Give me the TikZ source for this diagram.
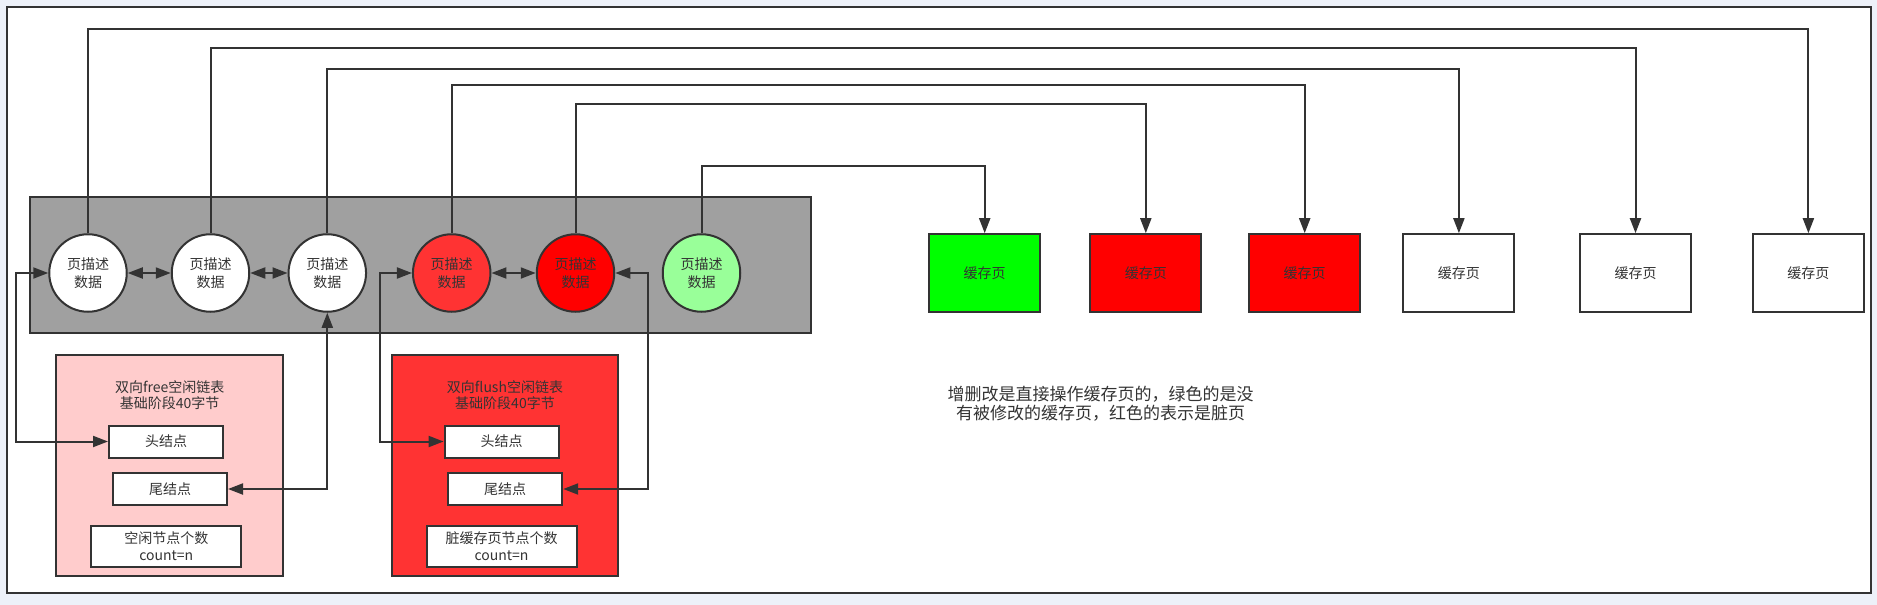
\documentclass[tikz,border=0pt]{standalone}
\usepackage{fontspec}
\setmainfont{Noto Sans CJK SC}
\usetikzlibrary{arrows.meta,positioning}
\definecolor{ink}{HTML}{333333}
\definecolor{canvas}{HTML}{EDF1F9}
\definecolor{poolgray}{HTML}{A0A0A0}
\definecolor{dirtyred}{HTML}{FF3333}
\definecolor{freepink}{HTML}{FFCCCC}
\definecolor{cleangreen}{HTML}{99FF99}
\tikzset{
  desc/.style={circle,draw=ink,line width=2pt,minimum size=77.5pt,inner sep=0pt,
    align=center,text=ink,font=\fontsize{14}{17.5}\selectfont},
  page/.style={rectangle,draw=ink,line width=2pt,minimum width=111pt,minimum height=78pt,
    inner sep=0pt,text=ink,font=\fontsize{14}{17}\selectfont},
  listbox/.style={rectangle,draw=ink,line width=2pt,minimum width=226.5pt,minimum height=221pt},
  field/.style={rectangle,draw=ink,fill=white,line width=2pt,minimum width=114pt,minimum height=32pt,
    inner sep=0pt,align=center,text=ink,font=\fontsize{14}{17}\selectfont},
  countfield/.style={field,minimum width=150pt,minimum height=41pt},
  caption/.style={align=center,text=ink,inner sep=0pt,font=\fontsize{14}{16.6}\selectfont},
  link/.style={draw=ink,line width=2pt,>={Triangle[length=15pt,width=11pt]}}
}
\begin{document}
\begin{tikzpicture}[x=1pt,y=-1pt]
  \useasboundingbox[fill=canvas] (0,0) rectangle (1877,605);
  \draw[ink,line width=2pt,fill=white] (6.7,7.3) rectangle (1871.3,593.3);
  \node[draw=ink,line width=2pt,fill=poolgray,minimum width=780.7pt,minimum height=136pt] (pool) at (420.3,264.7) {};

  % page descriptors
  \node[desc,fill=white] (d1) at (88,273) {页描述\\数据};
  \node[desc,fill=white] (d2) at (210.5,273) {页描述\\数据};
  \node[desc,fill=white] (d3) at (327.3,273) {页描述\\数据};
  \node[desc,fill=dirtyred] (d4) at (451.7,273) {页描述\\数据};
  \node[desc,fill=red] (d5) at (575.5,273) {页描述\\数据};
  \node[desc,fill=cleangreen] (d6) at (701.5,273) {页描述\\数据};

  % cache pages
  \node[page,fill=green] (p1) at (984.7,273.2) {缓存页};
  \node[page,fill=red] (p2) at (1145.8,273.2) {缓存页};
  \node[page,fill=red] (p3) at (1304.7,273.2) {缓存页};
  \node[page,fill=white] (p4) at (1458.9,273.2) {缓存页};
  \node[page,fill=white] (p5) at (1635.5,273.2) {缓存页};
  \node[page,fill=white] (p6) at (1808.4,273.2) {缓存页};

  % free list
  \node[listbox,fill=freepink] (freelist) at (169.7,465.5) {};
  \node[caption] (freetitle) at (169.7,395) {双向free空闲链表\\基础阶段40字节};
  \node[field] (freehead) at (166,441.5) {头结点};
  \node[field] (freetail) at (170,489) {尾结点};
  \node[countfield] (freecount) at (166.3,546.2) {空闲节点个数\\count=n};

  % flush list
  \node[listbox,fill=dirtyred] (flushlist) at (505,465.5) {};
  \node[caption] (flushtitle) at (505,395) {双向flush空闲链表\\基础阶段40字节};
  \node[field] (flushhead) at (501.6,441.5) {头结点};
  \node[field] (flushtail) at (505.2,489) {尾结点};
  \node[countfield] (flushcount) at (501.5,546.2) {脏缓存页节点个数\\count=n};

  \node[caption,font=\fontsize{17}{19.5}\selectfont] (note) at (1100.6,403.7)
    {增删改是直接操作缓存页的，绿色的是没\\有被修改的缓存页，红色的表示是脏页};

  \coordinate (freebus) at (16,273);
  \coordinate (flushin) at (380,273);
  \coordinate (flushout) at (647.7,489);

  \begin{scope}[link]
    \draw[->] (d1.north) -- (d1.north |- 0,28.7) -| (p6.north);
    \draw[->] (d2.north) -- (d2.north |- 0,48.3) -| (p5.north);
    \draw[->] (d3.north) -- (d3.north |- 0,69.3) -| (p4.north);
    \draw[->] (d4.north) -- (d4.north |- 0,84.7) -| (p3.north);
    \draw[->] (d5.north) -- (d5.north |- 0,104.3) -| (p2.north);
    \draw[->] (d6.north) -- (d6.north |- 0,165.7) -| (p1.north);
    \draw[<->] (d1) -- (d2);
    \draw[<->] (d2) -- (d3);
    \draw[<->] (d4) -- (d5);
    \draw[<->] (d1.west) -- (freebus) |- (freehead.west);
    \draw[<->] (freetail.east) -| (d3.south);
    \draw[<->] (d4.west) -- (flushin) |- (flushhead.west);
    \draw[<->] (flushtail.east) -- (flushout) |- (d5.east);
  \end{scope}
\end{tikzpicture}
\end{document}
